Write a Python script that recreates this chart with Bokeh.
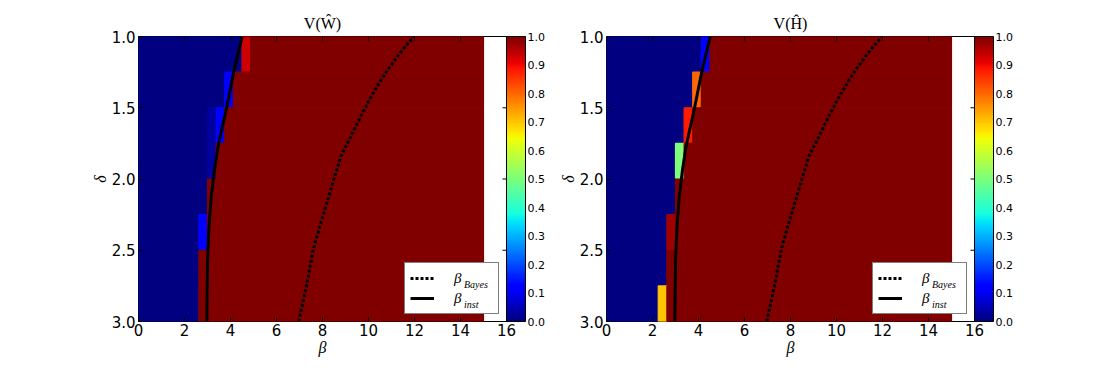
import numpy as np
from bokeh.plotting import figure
from bokeh.models import (Range1d, LinearColorMapper, ColorBar, FixedTicker, PrintfTickFormatter,
                          Legend, LegendItem, ColumnDataSource)
from bokeh.layouts import row
from bokeh.transform import linear_cmap
from bokeh.embed import file_html
from bokeh.resources import INLINE

# ---------------- data ----------------
beta_step = 0.375          # width of one beta cell
n_beta = 40                # number of beta cells (0 .. 15)
delta_edges = [1.0, 1.25, 1.5, 1.75, 2.0, 2.25, 2.5, 2.75, 3.0]

# V(W): first column (per delta row) from which the value is 1.0; below it 0.0
W_first_one = [13, 11, 10, 9, 8, 8, 7, 7]
W_cell_rows = [0, 1, 2, 2, 3, 5]
W_cell_cols = [12, 10, 9, 8, 8, 7]
W_cell_vals = [0.93, 0.12, 0.12, 0.03, 0.03, 0.12]

# V(H)
H_first_one = [12, 11, 10, 9, 8, 7, 7, 7]
H_cell_rows = [0, 1, 2, 3, 5, 7]
H_cell_cols = [11, 10, 9, 8, 7, 6]
H_cell_vals = [0.12, 0.80, 0.88, 0.50, 0.97, 0.70]

# threshold curves (beta, delta)
bayes_beta = [6.97, 7.30, 7.62, 8.00, 8.35, 8.78, 9.05, 9.36, 9.70, 10.09, 10.45, 10.81, 11.35, 11.97]
bayes_delta = [3.00, 2.75, 2.48, 2.27, 2.08, 1.85, 1.76, 1.66, 1.55, 1.43, 1.33, 1.24, 1.12, 1.00]
inst_beta = [2.97, 3.00, 3.03, 3.08, 3.16, 3.30, 3.45, 3.61, 3.83, 4.14, 4.51]
inst_delta = [3.00, 2.60, 2.45, 2.30, 2.13, 1.94, 1.78, 1.66, 1.50, 1.25, 1.00]

legend_subscripts = ["Bayes", "inst"]
cbar_ticks = [0.0, 0.1, 0.2, 0.3, 0.4, 0.5, 0.6, 0.7, 0.8, 0.9, 1.0]
x_ticks = [0, 2, 4, 6, 8, 10, 12, 14, 16]
y_ticks = [1.0, 1.5, 2.0, 2.5, 3.0]

# ---------------- jet palette ----------------
def jet(n=256):
    t = np.linspace(0, 1, n)
    r = np.interp(t, [0, 0.35, 0.66, 0.89, 1], [0, 0, 1, 1, 0.5])
    g = np.interp(t, [0, 0.125, 0.375, 0.64, 0.91, 1], [0, 0, 1, 1, 0, 0])
    b = np.interp(t, [0, 0.11, 0.34, 0.65, 1], [0.5, 1, 1, 0, 0])
    return ["#%02x%02x%02x" % (int(round(a * 255)), int(round(c * 255)), int(round(d * 255)))
            for a, c, d in zip(r, g, b)]

JET = jet()


def build_grid(first_one, rows, cols, vals):
    grid = np.zeros((len(first_one), n_beta))
    for i, f in enumerate(first_one):
        grid[i, f:] = 1.0
    for i, j, v in zip(rows, cols, vals):
        grid[i, j] = v
    return grid


def runs_source(grid):
    left, right, top, bottom, val = [], [], [], [], []
    for i in range(grid.shape[0]):
        j = 0
        while j < n_beta:
            k = j
            while k + 1 < n_beta and grid[i, k + 1] == grid[i, j]:
                k += 1
            left.append(j * beta_step)
            right.append((k + 1) * beta_step)
            top.append(delta_edges[i])
            bottom.append(delta_edges[i + 1])
            val.append(grid[i, j])
            j = k + 1
    return ColumnDataSource(dict(left=left, right=right, top=top, bottom=bottom, value=val))


SERIF = "Liberation Serif"


def make_panel(grid, title_letter, border_left, border_right):
    p = figure(x_range=Range1d(0, 16), y_range=Range1d(3.0, 1.0),
               frame_width=368, frame_height=285,
               min_border_left=border_left, min_border_right=border_right,
               min_border_top=36, min_border_bottom=38,
               output_backend="svg", toolbar_location=None)
    p.background_fill_color = "white"
    p.border_fill_color = "white"
    p.outline_line_color = "black"
    p.outline_line_width = 1
    p.grid.visible = False

    p.title.text = "V(" + title_letter + ")"
    p.title.align = "center"
    p.title.text_font = SERIF
    p.title.text_font_size = "16px"
    p.title.text_font_style = "normal"
    p.title.text_color = "black"
    p.title.standoff = 10

    src = runs_source(grid)
    cmap = linear_cmap("value", JET, 0.0, 1.0)
    p.quad(left="left", right="right", top="top", bottom="bottom", source=src,
           fill_color=cmap, line_color=cmap, line_width=1.2)

    r_bayes = p.line(bayes_beta, bayes_delta, line_color="black", line_width=3, line_dash="3 2")
    r_inst = p.line(inst_beta, inst_delta, line_color="black", line_width=3)
    r_none = p.line(x=[], y=[], line_alpha=0)   # invisible sample for the subscript legend

    # inward ticks on top and right edges
    p.scatter(x=x_ticks, y=[delta_edges[0]] * len(x_ticks), marker="dash", angle=np.pi / 2,
              size=8, line_color="black", line_width=1)
    p.scatter(x=[x_ticks[-1]] * len(y_ticks), y=y_ticks, marker="dash",
              size=8, line_color="black", line_width=1)

    # axes styling
    for ax in p.xaxis + p.yaxis:
        ax.major_tick_in = 4
        ax.major_tick_out = 0
        ax.minor_tick_line_color = None
        ax.axis_line_color = None
        ax.major_label_text_font = "DejaVu Sans"
        ax.major_label_text_font_size = "15px"
        ax.major_label_text_color = "black"
        ax.major_tick_line_color = "black"
        ax.axis_label_text_font = SERIF
        ax.axis_label_text_font_style = "italic"
        ax.axis_label_text_font_size = "16px"
        ax.axis_label_text_color = "black"
    p.xaxis.ticker = FixedTicker(ticks=x_ticks)
    p.yaxis.ticker = FixedTicker(ticks=y_ticks)
    p.yaxis.formatter = PrintfTickFormatter(format="%.1f")
    p.xaxis.major_label_standoff = 2
    p.yaxis.major_label_standoff = 3
    p.xaxis.axis_label = "β"
    p.yaxis.axis_label = "δ"
    p.xaxis.axis_label_standoff = 0
    p.yaxis.axis_label_standoff = 0

    # legend with beta symbols
    legend = Legend(items=[LegendItem(label="β", renderers=[r_bayes]),
                           LegendItem(label="β", renderers=[r_inst])],
                    location="bottom_right", margin=7, padding=5, spacing=0,
                    glyph_width=24, glyph_height=20, label_height=20, label_width=39,
                    label_standoff=20, label_text_font=SERIF, label_text_font_style="italic",
                    label_text_font_size="15px", label_text_color="black",
                    border_line_color="black", border_line_width=1,
                    background_fill_color="white", background_fill_alpha=1.0)
    p.add_layout(legend)
    # transparent overlay legend carrying the subscripts
    legend_sub = Legend(items=[LegendItem(label=legend_subscripts[0], renderers=[r_none]),
                               LegendItem(label=legend_subscripts[1], renderers=[r_none])],
                        location="bottom_right", margin=7, padding=5, spacing=0,
                        glyph_width=48, glyph_height=20, label_height=20, label_width=35,
                        label_standoff=0, label_text_font=SERIF, label_text_font_style="italic",
                        label_text_font_size="10px", label_text_baseline="top",
                        label_text_color="black",
                        border_line_color=None, background_fill_alpha=0.0)
    p.add_layout(legend_sub)

    mapper = LinearColorMapper(palette=JET, low=0.0, high=1.0)
    cbar = ColorBar(color_mapper=mapper, ticker=FixedTicker(ticks=cbar_ticks),
                    formatter=PrintfTickFormatter(format="%.1f"), width=19, padding=0, margin=2,
                    major_label_text_font="DejaVu Sans", major_label_text_font_size="11px",
                    major_label_text_color="black", label_standoff=2,
                    major_tick_line_color=None, minor_tick_line_color=None,
                    bar_line_color="black", bar_line_width=1, border_line_color=None,
                    background_fill_color=None)
    p.add_layout(cbar, "right")
    return p


gW = build_grid(W_first_one, W_cell_rows, W_cell_cols, W_cell_vals)
gH = build_grid(H_first_one, H_cell_rows, H_cell_cols, H_cell_vals)

p1 = make_panel(gW, "Ŵ", 138, 50)
p2 = make_panel(gH, "Ĥ", 49, 50)

layout = row(p1, p2, spacing=0)
open("out.html", "w").write(file_html(layout, INLINE))
